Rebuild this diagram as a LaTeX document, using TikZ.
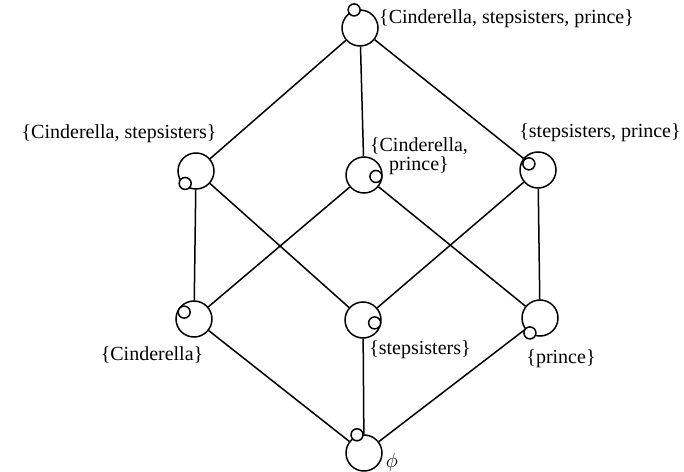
\documentclass[tikz,border=0pt]{standalone}
\usepackage{fontspec}
\setmainfont{Liberation Serif}
\usetikzlibrary{positioning}
\tikzset{
  font=\fontsize{20}{19}\selectfont,
  set/.style  ={draw, circle, line width=1.5pt, minimum size=36pt, inner sep=0pt},
  knob/.style ={draw, circle, line width=1.5pt, fill=white, minimum size=12pt, inner sep=0pt},
  link/.style ={line width=1.5pt},
  lbl/.style  ={inner sep=0pt, align=center},
}

\begin{document}
\begin{tikzpicture}[x=1pt, y=1pt]
  \useasboundingbox (0,0) rectangle (684,471);
  % the subsets, one circle each
  \node[set] (top)   at (360,443) {};
  \node[set] (cs)    at (196,300) {};
  \node[set] (cp)    at (364,296) {};
  \node[set] (sp)    at (538,301) {};
  \node[set] (c)     at (194,152) {};
  \node[set] (s)     at (363,151) {};
  \node[set] (p)     at (540,153) {};
  \node[set] (empty) at (364,18) {};
  % inclusion lines
  \draw[link] (top) -- (cs);
  \draw[link] (top) -- (cp);
  \draw[link] (top) -- (sp);
  \draw[link] (cs) -- (c);
  \draw[link] (cs) -- (s);
  \draw[link] (cp) -- (c);
  \draw[link] (cp) -- (p);
  \draw[link] (sp) -- (s);
  \draw[link] (sp) -- (p);
  \draw[link] (c) -- (empty);
  \draw[link] (s) -- (empty);
  \draw[link] (p) -- (empty);
  % small rings on each circle
  \node[knob] (top-k)   at ([shift={(108:19pt)}]top.center) {};
  \node[knob] (cs-k)    at ([shift={(229:16.5pt)}]cs.center) {};
  \node[knob] (cp-k)    at ([shift={(-7:12pt)}]cp.center) {};
  \node[knob] (sp-k)    at ([shift={(146:11pt)}]sp.center) {};
  \node[knob] (c-k)     at ([shift={(145:12pt)}]c.center) {};
  \node[knob] (s-k)     at ([shift={(-14:12pt)}]s.center) {};
  \node[knob] (p-k)     at ([shift={(236:18pt)}]p.center) {};
  \node[knob] (empty-k) at ([shift={(111:19.5pt)}]empty.center) {};
  % set labels
  \node[lbl, anchor=west] (top-l) at (379,452) {\{Cinderella, stepsisters, prince\}};
  \node[lbl] (cs-l)    at (119,337) {\{Cinderella, stepsisters\}};
  \node[lbl] (cp-l)    at (419,315) {\{Cinderella,\\ prince\}};
  \node[lbl] (sp-l)    at (600,338) {\{stepsisters, prince\}};
  \node[lbl] (c-l)     at (152,116) {\{Cinderella\}};
  \node[lbl] (s-l)     at (420,121) {\{stepsisters\}};
  \node[lbl] (p-l)     at (561,112) {\{prince\}};
  \node[lbl] (empty-l) at (392,9) {$\phi$};
\end{tikzpicture}
\end{document}
